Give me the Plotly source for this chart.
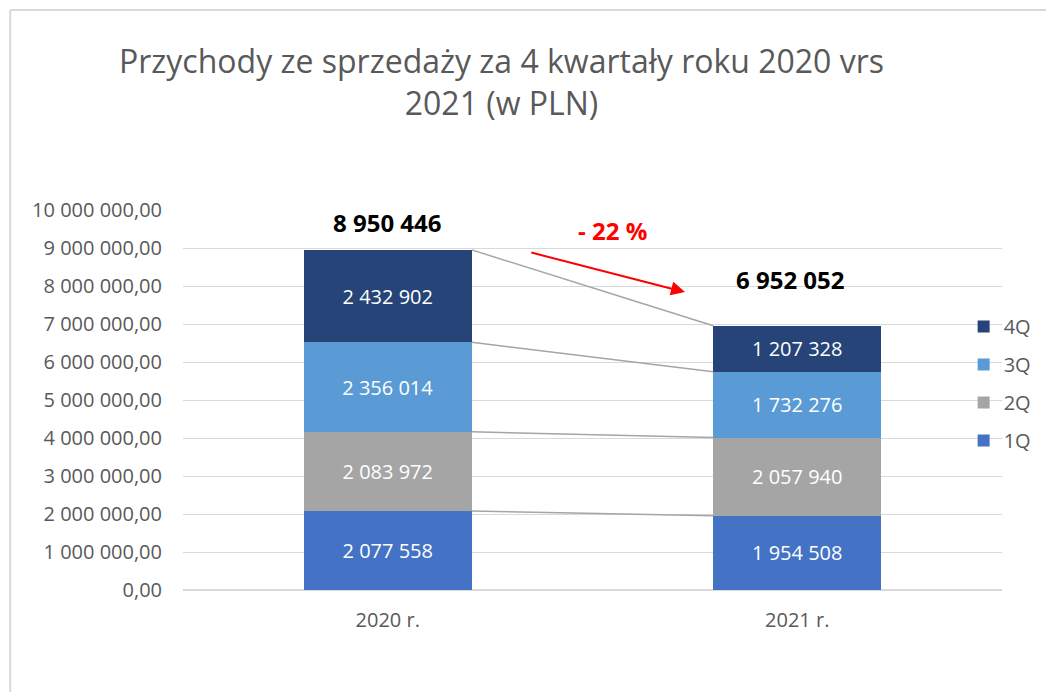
import plotly.graph_objects as go

# data
years = ["2020 r.", "2021 r."]
quarters = ["1Q", "2Q", "3Q", "4Q"]
q1 = [2077558, 1954508]
q2 = [2083972, 2057940]
q3 = [2356014, 1732276]
q4 = [2432902, 1207328]
totals = [8950446, 6952052]
change_label = "- 22 %"
y_ticks = [0, 1e6, 2e6, 3e6, 4e6, 5e6, 6e6, 7e6, 8e6, 9e6, 10e6]

colors = ["#4472C4", "#A5A5A5", "#5B9BD5", "#264478"]
FONT = "Open Sans"
GREY = "#595959"


def pl(v):
    # 2077558 -> "2 077 558"
    return f"{int(v):,}".replace(",", " ")


def pl_dec(v):
    return f"{int(v):,}".replace(",", " ") + ",00"


series = [q1, q2, q3, q4]
xpos = list(range(len(years)))
bar_w = 0.41

fig = go.Figure()

for i, (name, vals, col) in enumerate(zip(quarters, series, colors)):
    fig.add_trace(go.Bar(
        x=xpos, y=vals, name=name, width=bar_w,
        marker=dict(color=col, line=dict(width=0)),
        text=[pl(v) for v in vals], textposition="inside",
        insidetextanchor="middle", constraintext="none",
        textfont=dict(color="white", size=20, family=FONT),
        legendgroup=name, legendrank=len(quarters) - i, hoverinfo="skip",
    ))

# connector lines between segment tops
cum = [0, 0]
for vals in series:
    cum = [c + v for c, v in zip(cum, vals)]
    fig.add_trace(go.Scatter(
        x=[xpos[0] + bar_w / 2, xpos[1] - bar_w / 2], y=cum,
        mode="lines", line=dict(color="#A5A5A5", width=1.5),
        showlegend=False, hoverinfo="skip",
    ))

# totals above bars
shifts = [(0, 27), (-7, 46)]
for i, t in enumerate(totals):
    fig.add_annotation(
        x=xpos[i], y=t, text=f"<b>{pl(t)}</b>", showarrow=False,
        xshift=shifts[i][0], yshift=shifts[i][1], yanchor="middle",
        font=dict(size=24, color="black", family=FONT),
    )

# red change arrow + label
fig.add_annotation(
    x=0.726, y=7.84e6, ax=0.347, ay=8.89e6, axref="x", ayref="y",
    xref="x", yref="y", text="", showarrow=True,
    arrowhead=2, arrowsize=1.4, arrowwidth=2, arrowcolor="#FF0000",
)
fig.add_annotation(
    x=0.548, y=9.47e6, text=f"<b>{change_label}</b>", showarrow=False,
    yanchor="middle",
    font=dict(size=24, color="#FF0000", family=FONT),
)

# title
fig.add_annotation(
    xref="paper", yref="paper", x=0.389, y=1.339,
    xanchor="center", yanchor="middle",
    text="Przychody ze sprzedaży za 4 kwartały roku 2020 vrs<br>2021 (w PLN)",
    showarrow=False, align="center",
    font=dict(size=32, color=GREY, family=FONT),
)

# outer frame (top and left edges visible)
ml, mr, mt, mb = 183, 44, 210, 102
pw, ph = 1047 - ml - mr, 692 - mt - mb
fx0 = (10 - ml) / pw
fy1 = (692 - mb - 10) / ph
fig.add_shape(type="line", xref="paper", yref="paper", x0=fx0, x1=(1047 - ml) / pw,
              y0=fy1, y1=fy1, line=dict(color="#D9D9D9", width=2))
fig.add_shape(type="line", xref="paper", yref="paper", x0=fx0, x1=fx0,
              y0=fy1, y1=-mb / ph, line=dict(color="#D9D9D9", width=2))

fig.update_layout(
    width=1047, height=692,
    margin=dict(l=ml, r=mr, t=mt, b=mb),
    paper_bgcolor="white", plot_bgcolor="white",
    barmode="stack",
    font=dict(family=FONT, color=GREY),
    xaxis=dict(
        range=[-0.5, 1.5], tickvals=xpos, ticktext=years,
        tickfont=dict(size=20, color=GREY), showgrid=False,
        zeroline=False, showline=False, ticks="", fixedrange=True,
        ticklabelstandoff=16,
    ),
    yaxis=dict(
        range=[0, 10e6], tickvals=y_ticks, ticktext=[pl_dec(v) for v in y_ticks],
        tickfont=dict(size=20, color=GREY), gridcolor="#D9D9D9", gridwidth=1,
        zeroline=True, zerolinecolor="#D9D9D9", showline=False, ticks="",
        ticklabelstandoff=20,
    ),
    legend=dict(
        x=0.952, y=0.745, xanchor="left", yanchor="top",
        traceorder="grouped", tracegroupgap=9,
        font=dict(size=20, color=GREY), bgcolor="rgba(0,0,0,0)",
        itemwidth=30,
    ),
    showlegend=True,
)

fig.write_html("out.html", config={"displayModeBar": False},
               post_script="document.body.style.margin='0';")
